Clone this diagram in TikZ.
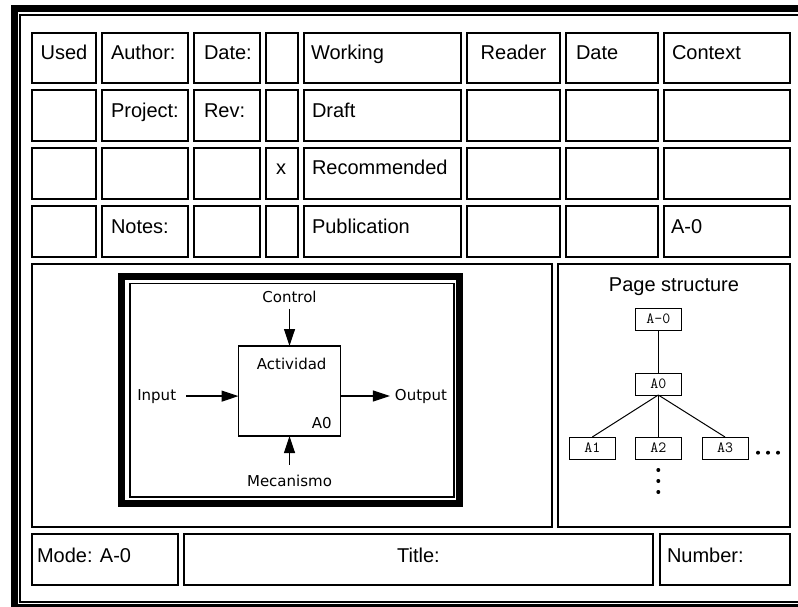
\documentclass[tikz,border=0pt]{standalone}
\usepackage{fontspec}
\setmainfont{Liberation Sans}
\newfontfamily\pixfont{DejaVu Sans}
\usetikzlibrary{arrows.meta}

\begin{document}
\begin{tikzpicture}[x=1pt,y=-1pt,inner sep=0pt,outer sep=0pt,
cell/.style={draw,line width=2pt},
lbl/.style={anchor=base west,font=\fontsize{20}{24}\selectfont},
clbl/.style={anchor=base,font=\fontsize{20}{24}\selectfont},
idef/.style={anchor=base,font=\pixfont\fontsize{15}{18}\selectfont},
actbox/.style={draw,line width=1.2pt,minimum width=102pt,minimum height=90pt},
pagebox/.style={draw,line width=1pt,minimum width=46pt,minimum height=22pt,font=\ttfamily\fontsize{15.5}{17}\selectfont},
flow/.style={-{Triangle[length=17pt,width=11pt]},line width=1.2pt}]

\useasboundingbox (0,0) rectangle (798,607);
\clip (0,0) rectangle (798,607);

% outer frame
\draw[line width=7pt] (14,8.5) rectangle (806,607.5);
\draw[line width=1.5pt] (20,15) rectangle (800,602);

% form cells
\foreach \xa/\xb in {31/97,101/189,193/261,265/299,303/462,466/561,565/659,663/791}
  \foreach \ya/\yb in {32/84,89/142,147/200,205/258}
    \draw[cell] (\xa+1,\ya+1) rectangle (\xb-1,\yb-1);
\draw[cell] (32,264) rectangle (552,527);
\draw[cell] (558,264) rectangle (790,527);
\draw[cell] (32,534) rectangle (178,585);
\draw[cell] (184,534) rectangle (653,585);
\draw[cell] (660,534) rectangle (790,585);

\node[clbl] (used) at (64,60) {Used};
\node[lbl] (author) at (111,60) {Author:};
\node[lbl] (date) at (204,60) {Date:};
\node[lbl] (working) at (311,60) {Working};
\node[clbl] (reader) at (513.5,60) {Reader};
\node[lbl] (rdate) at (576,60) {Date};
\node[lbl] (context) at (672,60) {Context};
\node[lbl] (project) at (111,118) {Project:};
\node[lbl] (rev) at (204,118) {Rev:};
\node[lbl] (draft) at (312,118) {Draft};
\node[clbl] (mark) at (281,175) {x};
\node[lbl] (recom) at (312,175) {Recommended};
\node[lbl] (notes) at (111,233) {Notes:};
\node[lbl] (publ) at (312,233) {Publication};
\node[lbl] (ctxnum) at (671,233) {A-0};
\node[lbl] (mode) at (37,562) {Mode: A-0};
\node[clbl] (title) at (418.5,562) {Title:};
\node[lbl] (number) at (667,562) {Number:};

% A-0 diagram
\draw[line width=7pt] (121.5,276.5) rectangle (459.5,503.5);
\draw[line width=1.5pt] (130,283.5) rectangle (454,497);
\node[actbox] (act) at (289.5,391) {};
\node[idef] (actname) at (291.7,369) {Actividad};
\node[idef] (actnum) at (321.7,428) {A0};
\node[idef] (ctl) at (289.5,302.7) {Control};
\node[idef] (mech) at (289.5,486) {Mecanismo};
\node[idef] (inp) at (156.7,400) {Input};
\node[idef] (outp) at (421,400) {Output};
\draw[flow] ([yshift=-6pt]ctl.south) -- (act.north);
\draw[flow] ([yshift=10pt]mech.north) -- (act.south);
\draw[flow] ([xshift=10pt]inp.east) -- (inp.east -| act.west);
\draw[flow] (outp.west -| act.east) -- ([xshift=-5pt]outp.west);

% page structure
\node[clbl] (pstruct) at (674,291.7) {Page structure};
\node[pagebox] (top) at (658.3,319) {A-0};
\node[pagebox] (a0) at (658.3,384) {A0};
\node[pagebox] (a1) at (592.3,448) {A1};
\node[pagebox] (a2) at (658.3,448) {A2};
\node[pagebox] (a3) at (725,448) {A3};
\draw[line width=1pt] (top) -- (a0);
\draw[line width=1pt] (a0.south) -- (a1.north);
\draw[line width=1pt] (a0.south) -- (a2.north);
\draw[line width=1pt] (a0.south) -- (a3.north);
\foreach \dx in {758,768,778}
  \fill (\dx,452.7) circle (2pt);
\foreach \dy in {470,481,492}
  \fill (658.3,\dy) circle (2pt);
\end{tikzpicture}
\end{document}
